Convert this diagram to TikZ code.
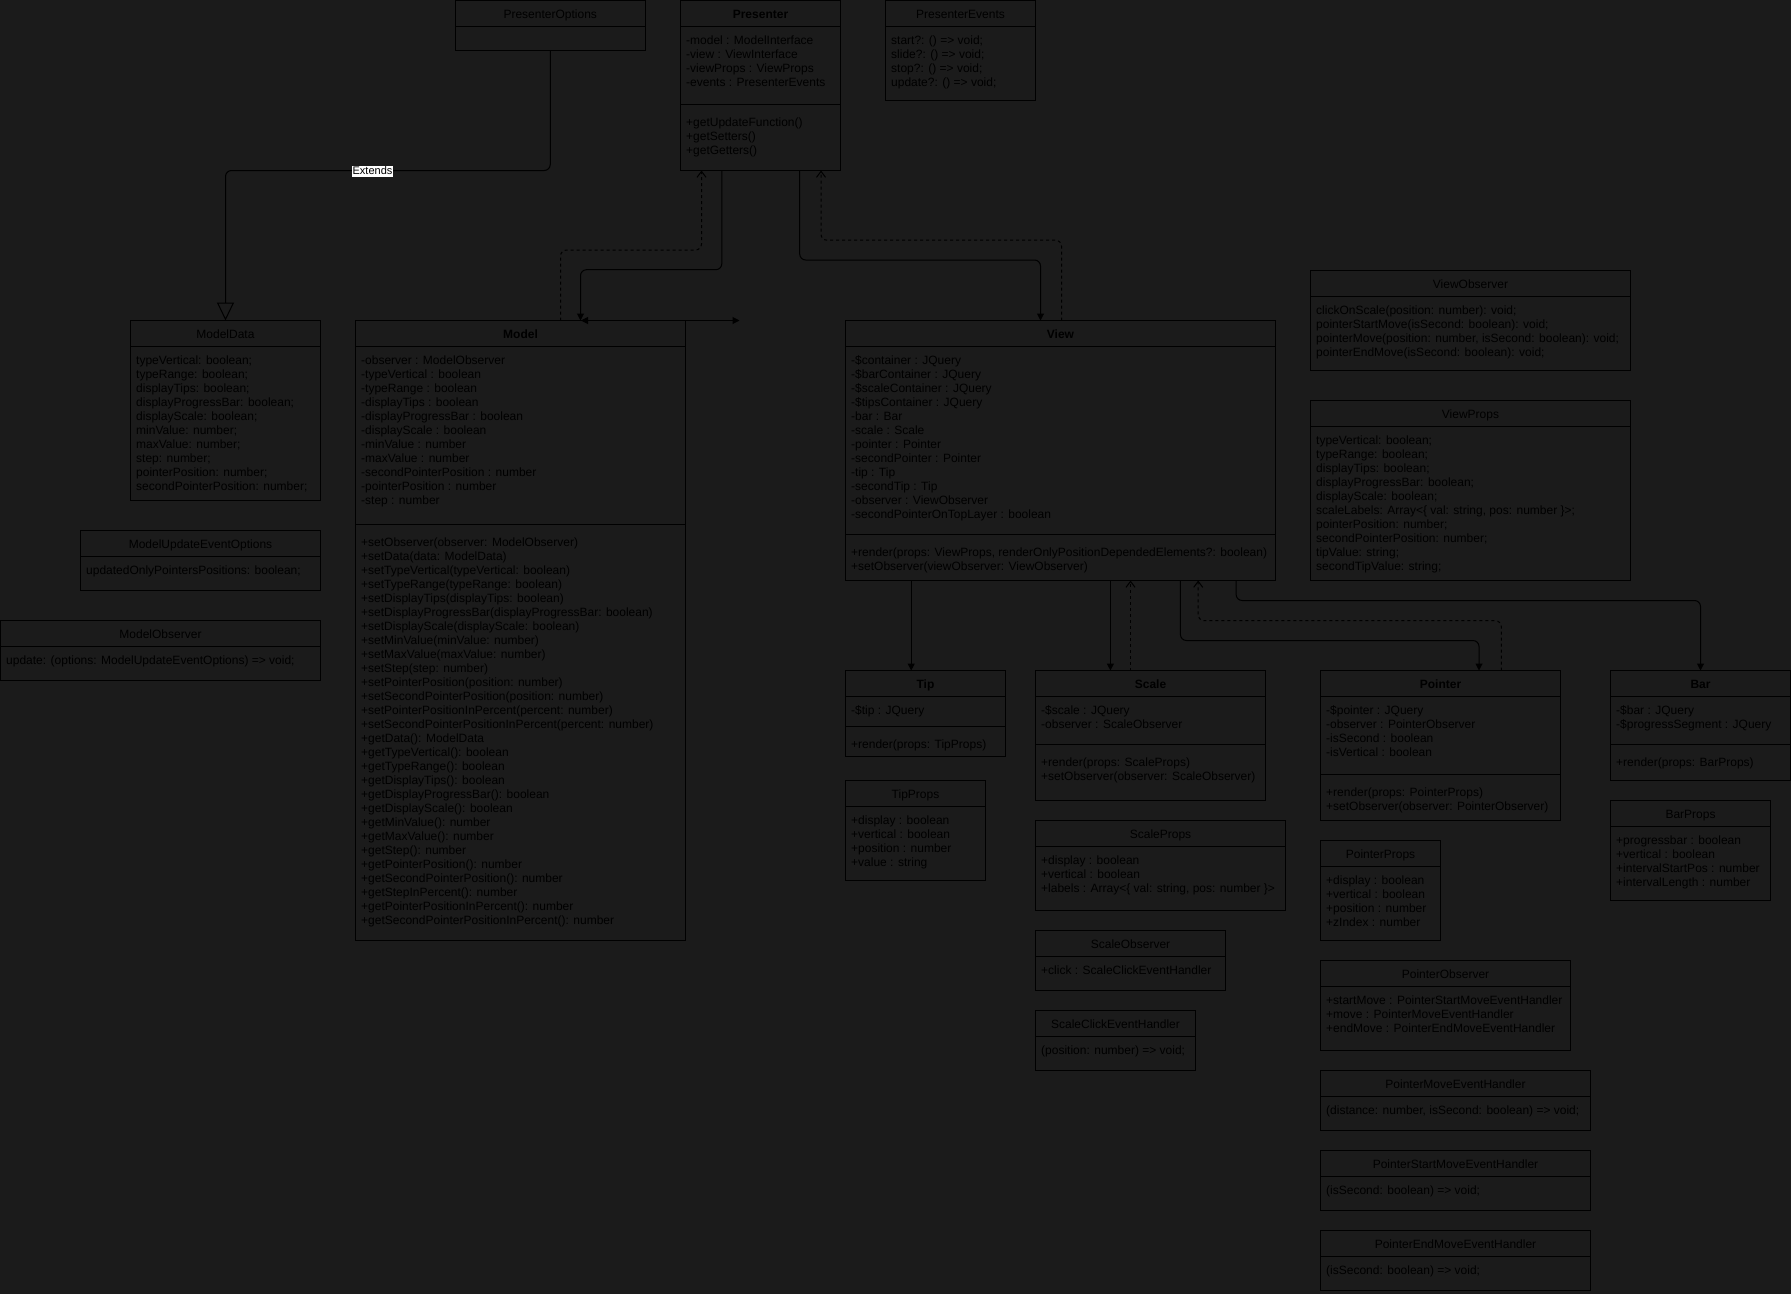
\documentclass[tikz,border=0pt]{standalone}
\usepackage{fontspec}
\setmainfont{Liberation Sans}
\usetikzlibrary{arrows.meta}

\definecolor{canvas}{RGB}{27,27,27}
\definecolor{ink}{RGB}{0,0,0}

\tikzset{
  umlframe/.style={draw=ink, line width=1pt, inner sep=0pt, outer sep=0pt},
  rule/.style={draw=ink, line width=1pt},
  titletext/.style={anchor=base, inner sep=0pt, font=\fontsize{12}{14}\selectfont, text=ink},
  bodytext/.style={anchor=base west, inner sep=0pt, font=\fontsize{12}{14}\selectfont, text=ink},
  assoc/.style={draw=ink, line width=1pt, rounded corners=6pt, -{Triangle[length=7pt,width=7pt]}},
  dep/.style={draw=ink, line width=1pt, rounded corners=6pt, dash pattern=on 3pt off 3pt, -{Straight Barb[length=6pt,width=9pt]}},
  extends/.style={draw=ink, line width=1pt, rounded corners=6pt, -{Triangle[open,length=18pt,width=17pt,fill=canvas]}},
  edgelabel/.style={fill=white, text=black, inner xsep=0.5pt, inner ysep=0pt, text height=8.5pt, text depth=2.5pt, font=\fontsize{11}{13}\selectfont},
}

% box frame with header line and centred title
\newcommand{\umlbox}[7]{%
  \node[umlframe, anchor=north west, minimum width={(#4-#2)*1pt}, minimum height={(#5-#3)*1pt}] (#1) at (#2,#3) {};
  \draw[rule] (#2,#6) -- (#4,#6);
  \node[titletext] (#1-title) at ({(#2+#4)/2},{#3+17.8}) {#7};
}
% attribute block below the header line
\newcommand{\umlattr}[4]{%
  \node[bodytext] (#1-attr) at ({#2+5.5},{#3+18.1}) {\begin{tabular}[t]{@{}l@{}}#4\end{tabular}};
}
% divider line and operation block
\newcommand{\umlops}[5]{%
  \draw[rule] (#2,#4) -- (#3,#4);
  \node[bodytext] (#1-ops) at ({#2+5.5},{#4+21.6}) {\begin{tabular}[t]{@{}l@{}}#5\end{tabular}};
}

\begin{document}
\begin{tikzpicture}[x=1pt,y=-1pt]
\fill[canvas] (0,0) rectangle (1791,1294);
\useasboundingbox (0,0) rectangle (1791,1294);

% ---------- presenter layer ----------
\umlbox{presopt}{455}{0.5}{645.5}{50.5}{26.5}{PresenterOptions}

\umlbox{presenter}{680.5}{0.5}{840.5}{170.5}{26.5}{\bfseries Presenter}
\umlattr{presenter}{680.5}{26.5}{-model : ModelInterface\\-view : ViewInterface\\-viewProps : ViewProps\\-events : PresenterEvents}
\umlops{presenter}{680.5}{840.5}{104.5}{+getUpdateFunction()\\+getSetters()\\+getGetters()}

\umlbox{presevents}{885.5}{0.5}{1035.5}{100.5}{26.5}{PresenterEvents}
\umlattr{presevents}{885.5}{26.5}{start?: () => void;\\slide?: () => void;\\stop?: () => void;\\update?: () => void;}

% ---------- model layer ----------
\umlbox{modeldata}{130.5}{320.5}{320.5}{500.5}{346.5}{ModelData}
\umlattr{modeldata}{130.5}{346.5}{typeVertical: boolean;\\typeRange: boolean;\\displayTips: boolean;\\displayProgressBar: boolean;\\displayScale: boolean;\\minValue: number;\\maxValue: number;\\step: number;\\pointerPosition: number;\\secondPointerPosition: number;}

\umlbox{mueo}{80.5}{530.5}{320.5}{590.5}{556.5}{ModelUpdateEventOptions}
\umlattr{mueo}{80.5}{556.5}{updatedOnlyPointersPositions: boolean;}

\umlbox{mobs}{0.5}{620.5}{320.5}{680.5}{646.5}{ModelObserver}
\umlattr{mobs}{0.5}{646.5}{update: (options: ModelUpdateEventOptions) => void;}

\umlbox{model}{355.5}{320.5}{685.5}{940.5}{346.5}{\bfseries Model}
\umlattr{model}{355.5}{346.5}{-observer : ModelObserver\\-typeVertical : boolean\\-typeRange : boolean\\-displayTips : boolean\\-displayProgressBar : boolean\\-displayScale : boolean\\-minValue : number\\-maxValue : number\\-secondPointerPosition : number\\-pointerPosition : number\\-step : number}
\umlops{model}{355.5}{685.5}{524.5}{+setObserver(observer: ModelObserver)\\+setData(data: ModelData)\\+setTypeVertical(typeVertical: boolean)\\+setTypeRange(typeRange: boolean)\\+setDisplayTips(displayTips: boolean)\\+setDisplayProgressBar(displayProgressBar: boolean)\\+setDisplayScale(displayScale: boolean)\\+setMinValue(minValue: number)\\+setMaxValue(maxValue: number)\\+setStep(step: number)\\+setPointerPosition(position: number)\\+setSecondPointerPosition(position: number)\\+setPointerPositionInPercent(percent: number)\\+setSecondPointerPositionInPercent(percent: number)\\+getData(): ModelData\\+getTypeVertical(): boolean\\+getTypeRange(): boolean\\+getDisplayTips(): boolean\\+getDisplayProgressBar(): boolean\\+getDisplayScale(): boolean\\+getMinValue(): number\\+getMaxValue(): number\\+getStep(): number\\+getPointerPosition(): number\\+getSecondPointerPosition(): number\\+getStepInPercent(): number\\+getPointerPositionInPercent(): number\\+getSecondPointerPositionInPercent(): number}

% ---------- view layer ----------
\umlbox{view}{845.5}{320.5}{1275.5}{580.5}{346.5}{\bfseries View}
\umlattr{view}{845.5}{346.5}{-\$container : JQuery\\-\$barContainer : JQuery\\-\$scaleContainer : JQuery\\-\$tipsContainer : JQuery\\-bar : Bar\\-scale : Scale\\-pointer : Pointer\\-secondPointer : Pointer\\-tip : Tip\\-secondTip : Tip\\-observer : ViewObserver\\-secondPointerOnTopLayer : boolean}
\umlops{view}{845.5}{1275.5}{534.5}{+render(props: ViewProps, renderOnlyPositionDependedElements?: boolean)\\+setObserver(viewObserver: ViewObserver)}

\umlbox{viewobs}{1310.5}{270.5}{1630.5}{370.5}{296.5}{ViewObserver}
\umlattr{viewobs}{1310.5}{296.5}{clickOnScale(position: number): void;\\pointerStartMove(isSecond: boolean): void;\\pointerMove(position: number, isSecond: boolean): void;\\pointerEndMove(isSecond: boolean): void;}

\umlbox{viewprops}{1310.5}{400.5}{1630.5}{580.5}{426.5}{ViewProps}
\umlattr{viewprops}{1310.5}{426.5}{typeVertical: boolean;\\typeRange: boolean;\\displayTips: boolean;\\displayProgressBar: boolean;\\displayScale: boolean;\\scaleLabels: Array<\{ val: string, pos: number \}>;\\pointerPosition: number;\\secondPointerPosition: number;\\tipValue: string;\\secondTipValue: string;}

% ---------- view components ----------
\umlbox{tip}{845.5}{670.5}{1005.5}{756.5}{696.5}{\bfseries Tip}
\umlattr{tip}{845.5}{696.5}{-\$tip : JQuery}
\umlops{tip}{845.5}{1005.5}{726.5}{+render(props: TipProps)}

\umlbox{tipprops}{845.5}{780.5}{985.5}{880.5}{806.5}{TipProps}
\umlattr{tipprops}{845.5}{806.5}{+display : boolean\\+vertical : boolean\\+position : number\\+value : string}

\umlbox{scale}{1035.5}{670.5}{1265.5}{800.5}{696.5}{\bfseries Scale}
\umlattr{scale}{1035.5}{696.5}{-\$scale : JQuery\\-observer : ScaleObserver}
\umlops{scale}{1035.5}{1265.5}{744.5}{+render(props: ScaleProps)\\+setObserver(observer: ScaleObserver)}

\umlbox{scaleprops}{1035.5}{820.5}{1285.5}{910.5}{846.5}{ScaleProps}
\umlattr{scaleprops}{1035.5}{846.5}{+display : boolean\\+vertical : boolean\\+labels : Array<\{ val: string, pos: number \}>}

\umlbox{scaleobs}{1035.5}{930.5}{1225.5}{990.5}{956.5}{ScaleObserver}
\umlattr{scaleobs}{1035.5}{956.5}{+click : ScaleClickEventHandler}

\umlbox{sceh}{1035.5}{1010.5}{1195.5}{1070.5}{1036.5}{ScaleClickEventHandler}
\umlattr{sceh}{1035.5}{1036.5}{(position: number) => void;}

\umlbox{pointer}{1320.5}{670.5}{1560.5}{820.5}{696.5}{\bfseries Pointer}
\umlattr{pointer}{1320.5}{696.5}{-\$pointer : JQuery\\-observer : PointerObserver\\-isSecond : boolean\\-isVertical : boolean}
\umlops{pointer}{1320.5}{1560.5}{774.5}{+render(props: PointerProps)\\+setObserver(observer: PointerObserver)}

\umlbox{pointerprops}{1320.5}{840.5}{1440.5}{940.5}{866.5}{PointerProps}
\umlattr{pointerprops}{1320.5}{866.5}{+display : boolean\\+vertical : boolean\\+position : number\\+zIndex : number}

\umlbox{pointerobs}{1320.5}{960.5}{1570.5}{1050.5}{986.5}{PointerObserver}
\umlattr{pointerobs}{1320.5}{986.5}{+startMove : PointerStartMoveEventHandler\\+move : PointerMoveEventHandler\\+endMove : PointerEndMoveEventHandler}

\umlbox{pmeh}{1320.5}{1070.5}{1590.5}{1130.5}{1096.5}{PointerMoveEventHandler}
\umlattr{pmeh}{1320.5}{1096.5}{(distance: number, isSecond: boolean) => void;}

\umlbox{psmeh}{1320.5}{1150.5}{1590.5}{1210.5}{1176.5}{PointerStartMoveEventHandler}
\umlattr{psmeh}{1320.5}{1176.5}{(isSecond: boolean) => void;}

\umlbox{pemeh}{1320.5}{1230.5}{1590.5}{1290.5}{1256.5}{PointerEndMoveEventHandler}
\umlattr{pemeh}{1320.5}{1256.5}{(isSecond: boolean) => void;}

\umlbox{bar}{1610.5}{670.5}{1790.5}{780.5}{696.5}{\bfseries Bar}
\umlattr{bar}{1610.5}{696.5}{-\$bar : JQuery\\-\$progressSegment : JQuery}
\umlops{bar}{1610.5}{1790.5}{744.5}{+render(props: BarProps)}

\umlbox{barprops}{1610.5}{800.5}{1770.5}{900.5}{826.5}{BarProps}
\umlattr{barprops}{1610.5}{826.5}{+progressbar : boolean\\+vertical : boolean\\+intervalStartPos : number\\+intervalLength : number}

% ---------- connectors ----------
% generalisation
\draw[extends] (presopt.south) -- ++(0,120) -| (modeldata.north);
\node[edgelabel] (extlabel) at (372.5,171.3) {Extends};

% presenter <-> model
\draw[dep] ([xshift=205pt]model.north west) -- ++(0,-70.5) -| ([xshift=21pt]presenter.south west);
\draw[assoc] ([xshift=41.3pt]presenter.south west) -- ++(0,99.2) -| ([xshift=225pt]model.north west);
\coordinate (mtop) at ([xshift=225.5pt]model.north west);
\coordinate (mfree) at (739.5,320.5);
\draw[line width=1pt, draw=ink, {Triangle[length=7pt,width=7pt]}-{Triangle[length=7pt,width=7pt]}] (mtop) -- (mfree);

% presenter <-> view
\draw[assoc] ([xshift=119.2pt]presenter.south west) -- ++(0,89.5) -| ([xshift=195pt]view.north west);
\draw[dep] ([xshift=216pt]view.north west) -- ++(0,-80.3) -| ([xshift=140.5pt]presenter.south west);

% view -> components
\draw[assoc] ([xshift=65.7pt]view.south west) -- ([xshift=65.7pt]tip.north west);
\draw[assoc] ([xshift=264.9pt]view.south west) -- ([xshift=74.9pt]scale.north west);
\draw[dep] ([xshift=95pt]scale.north west) -- ([xshift=285pt]view.south west);
\draw[assoc] ([xshift=334.9pt]view.south west) -- ++(0,60) -| ([xshift=158.5pt]pointer.north west);
\draw[dep] ([xshift=180.8pt]pointer.north west) -- ++(0,-49.8) -| ([xshift=352.7pt]view.south west);
\draw[assoc] ([xshift=390.6pt]view.south west) -- ++(0,20) -| (bar.north);

\end{tikzpicture}
\end{document}
